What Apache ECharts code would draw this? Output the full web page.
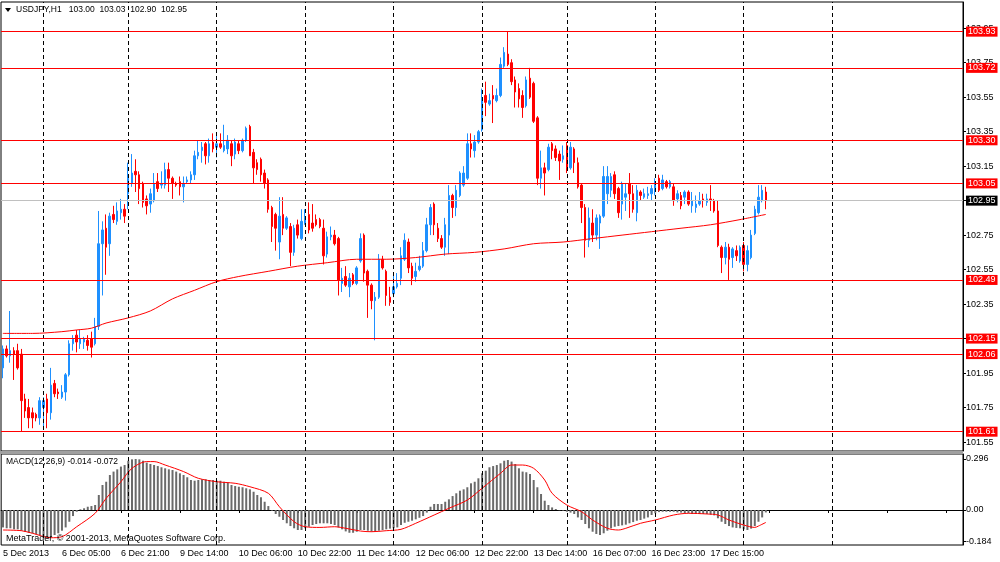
<!DOCTYPE html>
<html>
<head>
<meta charset="utf-8">
<title>USDJPY,H1</title>
<script src="https://cdn.jsdelivr.net/npm/echarts@6/dist/echarts.min.js"></script>
<style>
  body { margin: 0; background: #fff; }
  #main { width: 1000px; height: 562px; }
</style>
</head>
<body>
<div id="main"></div>
<script>
// USDJPY H1 chart data

// trading days: [label, first hour, last hour]
var days = [['5 Dec', 13, 23], ['6 Dec', 0, 22], ['9 Dec', 0, 23], ['10 Dec', 0, 23], ['11 Dec', 0, 23],
    ['12 Dec', 0, 23], ['13 Dec', 0, 22], ['16 Dec', 0, 23], ['17 Dec', 0, 23], ['18 Dec', 0, 23],
    ['19 Dec', 0, 23], ['20 Dec', 0, 11]];
var firstLabel = '5 Dec 2013';
var dayLines = ['6 Dec 00:00', '9 Dec 00:00', '10 Dec 00:00', '11 Dec 00:00', '12 Dec 00:00',
    '13 Dec 00:00', '16 Dec 00:00', '17 Dec 00:00', '18 Dec 00:00', '19 Dec 00:00'];

var open = [
    101.98,102.09,102.05,102.08,102.08,102.06,101.80,101.75,101.72,101.71,
    101.69,101.75,101.80,101.72,101.89,101.84,101.81,101.84,101.94,102.12,
    102.17,102.12,102.13,102.14,102.15,102.12,102.22,102.70,102.79,102.70,
    102.87,102.83,102.88,102.90,102.99,103.05,103.12,103.10,103.05,102.96,
    102.93,102.95,103.06,103.04,103.04,103.13,103.08,103.05,103.06,103.03,
    103.06,103.07,103.10,103.21,103.24,103.28,103.21,103.29,103.26,103.28,
    103.24,103.25,103.28,103.22,103.28,103.24,103.30,103.38,103.23,103.17,
    103.19,103.11,103.07,102.91,102.87,102.71,102.87,102.79,102.80,102.65,
    102.81,102.73,102.82,102.87,102.82,102.84,102.84,102.79,102.64,102.74,
    102.75,102.73,102.47,102.51,102.45,102.52,102.47,102.60,102.75,102.54,
    102.46,102.37,102.39,102.61,102.54,102.39,102.41,102.45,102.50,102.61,
    102.71,102.57,102.51,102.55,102.57,102.66,102.81,102.93,102.79,102.73,
    102.68,102.75,102.98,102.91,102.98,103.04,103.08,103.28,103.24,103.29,
    103.36,103.56,103.51,103.56,103.53,103.56,103.73,103.80,103.75,103.65,
    103.60,103.56,103.50,103.66,103.63,103.43,103.08,103.14,103.13,103.28,
    103.25,103.22,103.19,103.27,103.14,103.25,103.17,103.04,102.91,102.72,
    102.82,102.75,102.82,102.86,102.99,103.01,103.10,103.02,102.93,102.97,
    103.05,102.99,102.88,103.00,102.97,102.98,102.99,103.02,103.08,103.02,
    103.06,103.03,103.03,102.96,102.98,102.97,103.00,102.92,102.91,102.93,
    102.96,102.94,102.96,102.95,102.89,102.68,102.62,102.68,102.62,102.66,
    102.60,102.69,102.58,102.62,102.76,102.88,102.95,103.00];
var high = [
    102.11,102.11,102.31,102.10,102.12,102.09,101.83,101.80,101.75,101.72,
    101.81,101.81,101.83,101.98,101.91,101.86,101.88,101.95,102.14,102.17,
    102.20,102.20,102.16,102.17,102.19,102.27,102.89,102.83,102.87,102.88,
    102.92,102.94,102.96,102.93,103.17,103.22,103.19,103.12,103.06,102.98,
    103.02,103.11,103.11,103.12,103.17,103.17,103.09,103.06,103.09,103.09,
    103.09,103.12,103.24,103.30,103.29,103.29,103.31,103.34,103.33,103.34,
    103.39,103.33,103.30,103.31,103.30,103.31,103.38,103.39,103.25,103.19,
    103.20,103.13,103.08,102.92,102.88,102.97,102.97,102.86,102.82,102.81,
    102.84,102.90,102.90,102.94,102.93,102.87,102.85,102.84,102.77,102.80,
    102.78,102.74,102.56,102.57,102.53,102.53,102.57,102.76,102.76,102.55,
    102.47,102.42,102.64,102.63,102.55,102.45,102.53,102.53,102.68,102.76,
    102.73,102.59,102.59,102.63,102.71,102.85,102.93,102.94,102.82,102.75,
    102.85,103.04,102.99,103.04,103.12,103.15,103.34,103.34,103.33,103.36,
    103.60,103.64,103.57,103.62,103.60,103.78,103.84,103.93,103.77,103.67,
    103.63,103.59,103.67,103.72,103.64,103.44,103.24,103.17,103.28,103.29,
    103.27,103.24,103.27,103.29,103.29,103.26,103.20,103.05,102.93,102.91,
    102.90,102.87,102.87,103.15,103.15,103.11,103.12,103.03,103.06,103.05,
    103.11,103.04,103.04,103.01,103.02,103.03,103.04,103.08,103.10,103.10,
    103.07,103.07,103.05,103.01,103.00,103.01,103.01,103.00,102.98,103.00,
    102.99,102.99,103.04,102.96,102.95,102.69,102.71,102.70,102.68,102.69,
    102.69,102.71,102.69,102.78,102.92,103.04,103.04,103.03];
var low = [
    101.92,102.04,102.01,101.91,101.97,101.61,101.69,101.63,101.63,101.67,
    101.65,101.64,101.63,101.68,101.81,101.80,101.80,101.79,101.93,102.08,
    102.07,102.09,102.09,102.08,102.04,102.11,102.20,102.40,102.52,102.63,
    102.82,102.81,102.84,102.82,102.90,103.03,103.00,102.93,102.91,102.87,
    102.88,102.94,103.00,103.02,103.02,103.00,102.96,103.03,102.98,102.94,
    103.05,103.05,103.07,103.19,103.17,103.16,103.17,103.23,103.20,103.25,
    103.23,103.22,103.15,103.19,103.22,103.23,103.29,103.21,103.05,103.10,
    103.06,103.02,102.88,102.71,102.66,102.61,102.75,102.78,102.57,102.63,
    102.73,102.72,102.81,102.76,102.77,102.80,102.79,102.58,102.62,102.72,
    102.69,102.40,102.42,102.45,102.39,102.46,102.46,102.59,102.48,102.27,
    102.32,102.14,102.38,102.55,102.34,102.34,102.39,102.44,102.46,102.60,
    102.53,102.46,102.48,102.54,102.56,102.65,102.75,102.75,102.71,102.67,
    102.63,102.64,102.85,102.86,102.97,103.03,103.07,103.20,103.20,103.28,
    103.35,103.44,103.50,103.40,103.52,103.55,103.72,103.73,103.62,103.49,
    103.49,103.43,103.49,103.54,103.40,103.04,103.02,102.98,103.12,103.19,
    103.18,103.07,103.17,103.11,103.13,103.11,103.02,102.82,102.62,102.68,
    102.71,102.72,102.67,102.85,102.93,102.97,102.96,102.85,102.84,102.89,
    102.85,102.88,102.83,102.95,102.96,102.96,102.95,102.98,103.00,103.01,
    103.02,103.02,102.92,102.94,102.90,102.93,102.92,102.88,102.88,102.92,
    102.91,102.92,102.89,102.88,102.68,102.53,102.58,102.49,102.56,102.60,
    102.59,102.54,102.54,102.61,102.75,102.87,102.94,102.90];
var close = [
    102.09,102.05,102.08,102.06,101.98,101.79,101.73,101.69,101.69,101.69,
    101.79,101.79,101.72,101.88,101.83,101.83,101.84,101.94,102.12,102.15,
    102.13,102.15,102.15,102.11,102.10,102.22,102.70,102.78,102.68,102.86,
    102.84,102.89,102.90,102.86,103.08,103.11,103.10,103.02,102.94,102.92,
    102.99,103.05,103.02,103.05,103.13,103.08,103.05,103.04,103.03,103.05,
    103.07,103.10,103.21,103.23,103.26,103.21,103.28,103.25,103.28,103.26,
    103.27,103.30,103.21,103.29,103.24,103.30,103.37,103.21,103.14,103.13,
    103.10,103.05,102.90,102.80,102.79,102.86,102.79,102.85,102.65,102.79,
    102.75,102.83,102.85,102.78,102.79,102.81,102.80,102.63,102.74,102.75,
    102.70,102.49,102.50,102.46,102.50,102.47,102.56,102.73,102.53,102.46,
    102.37,102.39,102.61,102.56,102.40,102.36,102.45,102.47,102.63,102.72,
    102.56,102.50,102.54,102.57,102.66,102.81,102.91,102.81,102.73,102.68,
    102.81,102.98,102.91,103.01,103.11,103.11,103.28,103.25,103.29,103.35,
    103.54,103.52,103.53,103.54,103.56,103.74,103.81,103.74,103.64,103.58,
    103.54,103.49,103.65,103.55,103.41,103.08,103.14,103.11,103.26,103.24,
    103.20,103.18,103.21,103.14,103.26,103.17,103.03,102.91,102.72,102.85,
    102.75,102.85,102.86,103.09,103.09,103.09,102.99,102.88,103.05,102.99,
    102.99,102.90,103.01,102.98,102.99,102.99,103.02,103.05,103.01,103.07,
    103.03,103.06,102.95,102.99,102.92,103.00,102.93,102.95,102.93,102.95,
    102.95,102.96,102.95,102.89,102.69,102.62,102.68,102.61,102.67,102.63,
    102.68,102.58,102.66,102.75,102.90,102.97,103.01,102.95];

// moving average, read at these bars
var maIdx = [0, 8, 16, 20, 24, 28, 34, 40, 46, 52, 58, 64, 72, 80, 88, 96, 104, 112, 120, 128,
    136, 144, 152, 160, 168, 176, 184, 192, 200, 207];
var maVal = [102.18, 102.18, 102.19, 102.20, 102.21, 102.24, 102.27, 102.31, 102.38, 102.43,
    102.48, 102.51, 102.54, 102.57, 102.59, 102.61, 102.61, 102.62, 102.64, 102.65,
    102.67, 102.70, 102.71, 102.73, 102.75, 102.77, 102.79, 102.81, 102.84, 102.87];

// horizontal levels
var levels = [103.93, 103.72, 103.30, 103.05, 102.49, 102.15, 102.06, 101.61];
var priceTicks = [101.55, 101.75, 101.95, 102.15, 102.35, 102.55, 102.75, 102.95, 103.15, 103.35,
    103.55, 103.75, 103.95];

// MACD(12,26,9)
var macd = [
    -0.101,-0.106,-0.106,-0.112,-0.112,-0.120,-0.126,-0.132,-0.135,-0.141,
    -0.147,-0.158,-0.168,-0.160,-0.145,-0.135,-0.120,-0.101,-0.068,-0.035,
    -0.010,0.004,0.010,0.019,0.023,0.029,0.087,0.145,0.164,0.203,
    0.223,0.236,0.252,0.261,0.286,0.294,0.296,0.294,0.286,0.275,
    0.267,0.261,0.255,0.248,0.242,0.236,0.232,0.223,0.213,0.203,
    0.190,0.174,0.170,0.174,0.178,0.178,0.174,0.174,0.170,0.170,
    0.164,0.159,0.145,0.139,0.135,0.132,0.126,0.120,0.106,0.087,
    0.074,0.048,0.023,-0.004,-0.023,-0.039,-0.058,-0.077,-0.093,-0.106,
    -0.116,-0.116,-0.106,-0.097,-0.087,-0.081,-0.077,-0.077,-0.077,-0.081,
    -0.087,-0.101,-0.112,-0.124,-0.132,-0.132,-0.126,-0.116,-0.116,-0.120,
    -0.126,-0.126,-0.120,-0.116,-0.112,-0.108,-0.106,-0.101,-0.087,-0.074,
    -0.068,-0.062,-0.054,-0.045,-0.035,-0.015,0.019,0.035,0.035,0.035,
    0.048,0.062,0.081,0.097,0.112,0.120,0.132,0.155,0.164,0.184,
    0.213,0.228,0.248,0.255,0.261,0.271,0.286,0.290,0.281,0.267,
    0.242,0.223,0.219,0.209,0.174,0.132,0.093,0.054,0.029,0.015,
    0.006,-0.002,-0.004,-0.010,-0.015,-0.023,-0.043,-0.058,-0.081,-0.106,
    -0.126,-0.139,-0.145,-0.135,-0.120,-0.106,-0.097,-0.093,-0.089,-0.085,
    -0.077,-0.070,-0.062,-0.058,-0.050,-0.043,-0.029,-0.019,-0.012,-0.010,
    -0.010,-0.010,-0.010,-0.014,-0.015,-0.019,-0.019,-0.023,-0.023,-0.023,
    -0.023,-0.023,-0.027,-0.031,-0.048,-0.068,-0.081,-0.093,-0.101,-0.104,
    -0.106,-0.112,-0.116,-0.108,-0.093,-0.068,-0.043,-0.014];
var sigIdx = [0, 5, 8, 13, 16, 20, 25, 28, 32, 35, 39, 41, 44, 49, 53, 58, 63, 67, 72, 75,
    79, 82, 86, 90, 93, 97, 100, 104, 108, 112, 117, 121, 126, 130, 135, 138, 141, 144, 147, 149,
    153, 157, 160, 164, 167, 169, 173, 177, 182, 186, 191, 194, 197, 201, 204, 205, 207];
var sigVal = [-0.116, -0.120, -0.135, -0.161, -0.155, -0.097, -0.019, 0.068, 0.164, 0.242,
    0.281, 0.281, 0.261, 0.223, 0.184, 0.164, 0.155, 0.135, 0.097, 0.019,
    -0.068, -0.097, -0.101, -0.097, -0.106, -0.122, -0.126, -0.120, -0.112, -0.077,
    -0.029, 0.010, 0.058, 0.126, 0.213, 0.261, 0.261, 0.242, 0.174, 0.097,
    0.029, -0.010, -0.058, -0.106, -0.116, -0.106, -0.077, -0.058, -0.029, -0.019,
    -0.023, -0.029, -0.058, -0.087, -0.101, -0.093, -0.072];
var macdTicks = [0.296, 0, -0.184];


var FONT = 'Liberation Sans';

function buildCategories() {
    var res = [];
    for (var i = 0; i < days.length; i++) {
        for (var h = days[i][1]; h <= days[i][2]; h++) {
            res.push(days[i][0] + ' ' + (h < 10 ? '0' + h : h) + ':00');
        }
    }
    return res;
}

function pairs(idx, val) {
    var res = [];
    for (var i = 0; i < idx.length; i++) res.push([idx[i], val[i]]);
    return res;
}

var categories = buildCategories();
var last = close.length - 1;

var candles = [];
for (var i = 0; i < close.length; i++) {
    candles.push([open[i], close[i], low[i], high[i]]);
}

var dashLine = { color: '#000', width: 1, type: [4, 3] };
var vLines = dayLines.map(function (d) {
    return { xAxis: d, lineStyle: dashLine, label: { show: false } };
});

function tag(value, bg, lineColor) {
    return {
        yAxis: value,
        lineStyle: { color: lineColor, width: 1, type: 'solid' },
        label: {
            show: true, position: 'end', distance: 3,
            formatter: value.toFixed(2),
            color: '#fff', backgroundColor: bg,
            fontFamily: FONT, fontSize: 9, lineHeight: 9, padding: [1, 2, 0, 2]
        }
    };
}

var hLines = levels.map(function (v) { return tag(v, '#FF0000', '#FF0000'); });
hLines.unshift(tag(close[last], '#000', '#C0C0C0'));

var titleText = 'USDJPY,H1   ' + [open[last], high[last], low[last], close[last]].map(function (v) {
    return v.toFixed(2);
}).join('  ');

var option = {
    backgroundColor: '#fff',
    animation: false,
    textStyle: { fontFamily: FONT },
    grid: [
        { left: 1, top: 2, width: 962, height: 449, show: true, borderColor: '#000', borderWidth: 1 },
        { left: 1, top: 454, width: 962, height: 91, show: true, borderColor: '#000', borderWidth: 1 }
    ],
    xAxis: [
        {
            type: 'category', gridIndex: 0, data: categories, boundaryGap: true,
            axisLine: { show: false }, axisTick: { show: false }, axisLabel: { show: false },
            splitLine: { show: false }
        },
        {
            type: 'category', gridIndex: 1, data: categories, boundaryGap: true,
            axisLine: { show: true, lineStyle: { color: '#000' } },
            axisTick: { show: true, interval: 15, alignWithLabel: true, length: 3, lineStyle: { color: '#000' } },
            axisLabel: {
                interval: 15, align: 'left', margin: 4, color: '#000', fontSize: 9, fontFamily: FONT,
                formatter: function (value, index) {
                    if (index === 0) return firstLabel;
                    if (index > last) return '';
                    return value;
                }
            },
            splitLine: { show: false }
        }
    ],
    yAxis: [
        {
            type: 'value', gridIndex: 0, position: 'right', min: 101.498, max: 104.102,
            axisLine: { show: true, lineStyle: { color: '#000' } },
            axisTick: { show: true, length: 3, customValues: priceTicks, lineStyle: { color: '#000' } },
            axisLabel: {
                customValues: priceTicks, margin: 3, color: '#000', fontSize: 9, fontFamily: FONT,
                formatter: function (v) { return v.toFixed(2); }
            },
            splitLine: { show: false }
        },
        {
            type: 'value', gridIndex: 1, position: 'right', min: -0.203, max: 0.325,
            axisLine: { show: true, lineStyle: { color: '#000' } },
            axisTick: { show: true, length: 3, customValues: macdTicks, lineStyle: { color: '#000' } },
            axisLabel: {
                customValues: macdTicks, margin: 3, color: '#000', fontSize: 9, fontFamily: FONT,
                formatter: function (v) { return v === 0 ? '0.00' : v.toFixed(3); }
            },
            splitLine: { show: false }
        }
    ],
    graphic: [
        { type: 'rect', shape: { x: 0, y: 451, width: 963, height: 3 }, style: { fill: '#A0A0A0' }, z: 10 },
        { type: 'polygon', shape: { points: [[5, 8], [11, 8], [8, 12]] }, style: { fill: '#000' }, z: 10 },
        { type: 'text', x: 16, y: 10, style: { text: titleText, fill: '#000', font: '8.5px ' + FONT, textVerticalAlign: 'middle' }, z: 10 },
        {
            type: 'text', x: 6, y: 462, z: 10,
            style: { text: 'MACD(12,26,9) ' + macd[last].toFixed(3) + ' ' + sigVal[sigVal.length - 1].toFixed(3), fill: '#000', font: '8.5px ' + FONT, textVerticalAlign: 'middle' }
        },
        {
            type: 'text', x: 6, y: 539, z: 10,
            style: { text: 'MetaTrader, \u00A9 2001-2013, MetaQuotes Software Corp.', fill: '#000', font: '9px ' + FONT, textVerticalAlign: 'middle' }
        }
    ],
    series: [
        {
            name: 'USDJPY', type: 'candlestick', xAxisIndex: 0, yAxisIndex: 0,
            data: candles, barWidth: 2,
            itemStyle: { color: '#1E90FF', color0: '#FF0000', borderColor: '#1E90FF', borderColor0: '#FF0000', borderWidth: 1 },
            markLine: {
                silent: true, symbol: ['none', 'none'], animation: false,
                data: vLines.concat(hLines)
            }
        },
        {
            name: 'MA', type: 'line', xAxisIndex: 0, yAxisIndex: 0,
            data: pairs(maIdx, maVal), showSymbol: false, smooth: 0.3,
            lineStyle: { color: '#FF0000', width: 1 }, z: 3
        },
        {
            name: 'MACD', type: 'bar', xAxisIndex: 1, yAxisIndex: 1,
            data: macd, barWidth: 2, itemStyle: { color: '#6A6A6A' },
            markLine: {
                silent: true, symbol: ['none', 'none'], animation: false,
                data: vLines
            }
        },
        {
            name: 'Signal', type: 'line', xAxisIndex: 1, yAxisIndex: 1,
            data: pairs(sigIdx, sigVal), showSymbol: false, smooth: 0.3,
            lineStyle: { color: '#FF0000', width: 1 }, z: 3
        }
    ]
};

var myChart = echarts.init(document.getElementById('main'));
myChart.setOption(option);
</script>
</body>
</html>
